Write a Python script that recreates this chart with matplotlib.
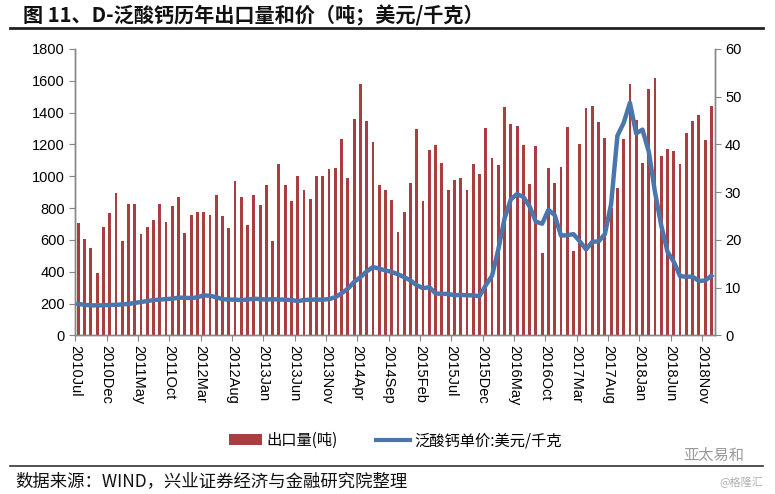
import matplotlib
matplotlib.use("Agg")
import matplotlib.pyplot as plt
import numpy as np
import pandas as pd
from matplotlib.patches import Patch
from matplotlib.lines import Line2D

plt.rcParams['font.family'] = ['Noto Sans CJK SC', 'DejaVu Sans']

# Monthly data, 2010-07 .. 2018-12
months = pd.period_range('2010-07', '2018-12', freq='M')
month_labels = [f"{p.year}{p.strftime('%b')}" for p in months]

export_volume = [
    706, 606, 547, 392, 681, 769, 895, 591, 826, 826, 639, 681,
    725, 826, 711, 813, 870, 643, 755, 777, 773, 759, 880, 748,
    673, 973, 870, 696, 884, 818, 943, 591, 1077, 943, 843, 1000,
    912, 859, 1000, 1000, 1048, 1052, 1237, 991, 1362, 1579, 1348, 1216,
    943, 912, 849, 648, 776, 958, 1296, 843, 1163, 1195, 1084, 912,
    979, 989, 912, 1077, 1013, 1304, 1115, 1073, 1436, 1331, 1318, 1199,
    952, 1191, 518, 1052, 960, 1059, 1311, 528, 1205, 1431, 1442, 1343,
    1241, 800, 925, 1237, 1581, 1351, 1085, 1547, 1620, 1126, 1174, 1159,
    1076, 1269, 1346, 1385, 1227, 1441,
]

unit_price = [
    6.6, 6.4, 6.3, 6.3, 6.3, 6.4, 6.4, 6.5, 6.6, 6.8, 7.0, 7.2,
    7.4, 7.5, 7.6, 7.7, 7.9, 7.9, 7.8, 8.0, 8.4, 8.3, 8.0, 7.6,
    7.5, 7.5, 7.4, 7.5, 7.7, 7.6, 7.5, 7.6, 7.5, 7.5, 7.4, 7.2,
    7.4, 7.5, 7.5, 7.5, 7.6, 8.0, 8.8, 9.8, 11.2, 12.2, 13.4, 14.3,
    14.0, 13.6, 13.3, 12.8, 12.2, 11.5, 10.5, 9.9, 10.1, 8.8, 8.7, 8.7,
    8.4, 8.5, 8.4, 8.4, 8.2, 10.5, 12.5, 18.0, 24.5, 28.5, 29.6, 29.0,
    27.0, 23.8, 23.4, 26.3, 25.2, 20.9, 21.0, 21.2, 19.7, 18.0, 19.6, 19.7,
    21.2, 27.5, 41.8, 44.5, 48.7, 42.3, 43.1, 38.5, 30.0, 23.0, 17.5, 15.4,
    12.4, 12.3, 12.3, 11.4, 11.5, 12.5,
]

left_ticks = [0, 200, 400, 600, 800, 1000, 1200, 1400, 1600, 1800]
right_ticks = [0, 10, 20, 30, 40, 50, 60]

title_text = "图 11、D-泛酸钙历年出口量和价（吨；美元/千克）"
legend_bar = "出口量(吨)"
legend_line = "泛酸钙单价:美元/千克"
source_text = "数据来源：WIND，兴业证券经济与金融研究院整理"

bar_color = '#A83E40'
line_color = '#4A76AC'
axis_color = '#868686'
num_font = ['Liberation Sans', 'DejaVu Sans']

fig = plt.figure(figsize=(7.75, 4.94), dpi=100)
ax = fig.add_axes([0.097, 0.321, 0.825, 0.580])
ax2 = ax.twinx()

x = np.arange(len(export_volume))
ax.bar(x, export_volume, width=0.45, color=bar_color, zorder=2)
ax2.plot(x, unit_price, color=line_color, lw=3.2, solid_joinstyle='round', zorder=3)

ax.set_xlim(-0.5, len(x) - 0.5)
ax.set_ylim(0, 1800)
ax2.set_ylim(0, 60)
ax.set_yticks(left_ticks)
ax2.set_yticks(right_ticks)
ax.set_yticklabels([str(v) for v in left_ticks], family=num_font, fontsize=10.5)
ax2.set_yticklabels([str(v) for v in right_ticks], family=num_font, fontsize=10.5)

tick_pos = x[::5] - 0.5
ax.set_xticks(tick_pos)
ax.set_xticklabels(month_labels[::5], rotation=270, fontsize=10.5,
                   family=num_font)
ax.tick_params(axis='x', length=4, color=axis_color, pad=3)
ax.tick_params(axis='y', length=4, color=axis_color)
ax2.tick_params(axis='y', length=4, color=axis_color)

for a in (ax, ax2):
    a.spines['top'].set_visible(False)
    for s in ('left', 'right', 'bottom'):
        a.spines[s].set_color(axis_color)
        a.spines[s].set_linewidth(1.0)
ax2.set_zorder(ax.get_zorder() + 1)
ax2.patch.set_visible(False)

# Title and rule
fig.text(0.03, 0.968, title_text, fontsize=14.5, fontweight='bold',
         ha='left', va='center', color='#111111')
fig.add_artist(Line2D([0.013, 0.985], [0.944, 0.944], color='#222222', lw=2,
                      transform=fig.transFigure))

# Legend
handles = [Patch(facecolor=bar_color, edgecolor='none'),
           Line2D([0], [0], color=line_color, lw=3)]
fig.legend(handles, [legend_bar, legend_line], loc='center',
           bbox_to_anchor=(0.51, 0.108), ncol=2, frameon=False, fontsize=11,
           handlelength=2.2, handletextpad=0.3, columnspacing=2.5)

# Source line
fig.add_artist(Line2D([0.013, 0.985], [0.057, 0.057], color='#333333', lw=1.2,
                      transform=fig.transFigure))
fig.text(0.02, 0.026, source_text, fontsize=12.5, ha='left', va='center',
         color='#111111')
fig.text(0.96, 0.078, "亚太易和", fontsize=11, ha='right', va='center',
         color='#9a9a9a')
fig.text(0.985, 0.024, "@格隆汇", fontsize=8, ha='right', va='center',
         color='#b0b0b0')

fig.savefig('out.png', dpi=100)
